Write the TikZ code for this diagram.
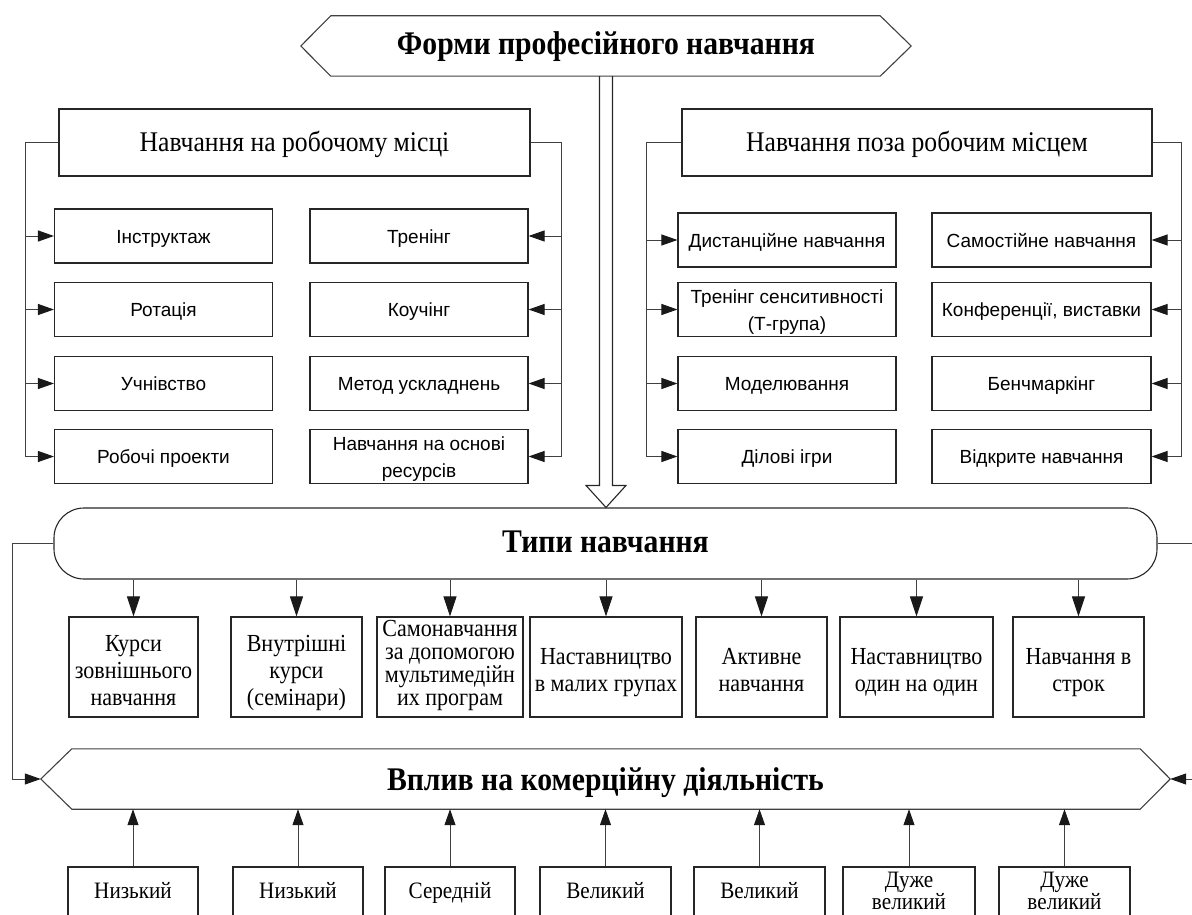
\documentclass[tikz,border=0pt]{standalone}
\usepackage{fontspec}
\setmainfont{Liberation Serif}[FakeStretch=0.9]
\newfontfamily\sansf{Liberation Sans}
\usetikzlibrary{arrows.meta,calc}

\tikzset{
  ln/.style={draw=black!75, line width=1pt},
  arr/.style={ln, -{Triangle[length=16pt,width=11pt,black!90]}},
  darr/.style={ln, -{Triangle[length=20pt,width=13pt,black!90]}},
  box/.style={draw=black!85, line width=1.1pt, rectangle, inner sep=0pt, align=center},
  % invisible rules: height of the first line, depth of the last line;
  % lines always keep the full baseline distance
  struts/.style 2 args={execute at begin node={\lineskiplimit=-100pt\rule{0pt}{#1}},
                        execute at end node={\rule[-#2]{0pt}{#2}}},
  formbox/.style={box, align=flush center, minimum width=#1, text width=#1-6pt, minimum height=54pt,
    struts={19pt}{5pt}, font=\sansf\fontsize{19}{27}\selectfont},
  formbox/.default=218pt,
  headbox/.style={box, minimum width=#1, minimum height=67pt, struts={24pt}{6pt},
    font=\fontsize{28.5}{32}\selectfont},
  headbox/.default=471pt,
  typebase/.style={box, align=flush center, minimum width=#1, text width=#1-4pt, minimum height=100pt},
  typebox/.style={typebase=#1, struts={30pt}{8pt}, font=\fontsize{24.5}{27}\selectfont},
  typeboxtight/.style={typebase=#1, struts={19pt}{11pt}, font=\fontsize{24.5}{22.7}\selectfont},
  effbox/.style={box, align=flush center, minimum width=#1, text width=#1-6pt, minimum height=52pt,
    struts={17pt}{6pt}, font=\fontsize{23.5}{21.5}\selectfont},
  effbox/.default=131pt,
  bigtitle/.style={font=\bfseries\fontsize{33}{36}\selectfont, inner sep=0pt},
}

\begin{document}
\begin{tikzpicture}[x=1pt,y=-1pt]
\useasboundingbox (0,0) rectangle (1192,915);
\clip (0,0) rectangle (1192,915);

% ---- top banner
\node[bigtitle, struts={26pt}{8pt}, minimum width=610pt, minimum height=60pt] (title) at (606,46) {Форми професійного навчання};
\draw[ln, line width=1.1pt] (title.west) -- ([xshift=30pt]title.north west) -- ([xshift=-31pt]title.north east)
  -- (title.east) -- ([xshift=-31pt]title.south east) -- ([xshift=30pt]title.south west) -- cycle;

% ---- on-the-job group
\node[headbox] (onjob) at (294.5,142.5) {Навчання на робочому місці};
\node[formbox] (L1) at (163.5,236)   {Інструктаж};
\node[formbox] (L2) at (163.5,309.5) {Ротація};
\node[formbox] (L3) at (163.5,383.5) {Учнівство};
\node[formbox] (L4) at (163.5,456.5) {Робочі проекти};
\node[formbox] (R1) at (419,236)     {Тренінг};
\node[formbox] (R2) at (419,309.5)   {Коучінг};
\node[formbox] (R3) at (419,383.5)   {Метод ускладнень};
\node[formbox] (R4) at (419,456.5)   {Навчання на основі\\ресурсів};

\draw[ln] (onjob.west) -- ++(-33,0) coordinate (lj) -- (lj |- L4.west);
\foreach \n in {L1,L2,L3,L4} \draw[arr] (lj |- \n.west) -- (\n.west);
\draw[ln] (onjob.east) -- ++(31,0) coordinate (rj) -- (rj |- R4.east);
\foreach \n in {R1,R2,R3,R4} \draw[arr] (rj |- \n.east) -- (\n.east);

% ---- off-the-job group
\node[headbox=470pt] (offjob) at (917,142.5) {Навчання поза робочим місцем};
\node[formbox] (A1) at (787,240)     {Дистанційне навчання};
\node[formbox] (A2) at (787,309.5)   {Тренінг сенситивності\\(Т-група)};
\node[formbox] (A3) at (787,383.5)   {Моделювання};
\node[formbox] (A4) at (787,456.5)   {Ділові ігри};
\node[formbox=219pt] (B1) at (1041.5,240)   {Самостійне навчання};
\node[formbox=219pt] (B2) at (1041.5,309.5) {Конференції, виставки};
\node[formbox=219pt] (B3) at (1041.5,383.5) {Бенчмаркінг};
\node[formbox=219pt] (B4) at (1041.5,456.5) {Відкрите навчання};

\draw[ln] (offjob.west) -- ++(-35,0) coordinate (lo) -- (lo |- A4.west);
\foreach \n in {A1,A2,A3,A4} \draw[arr] (lo |- \n.west) -- (\n.west);
\draw[ln] (offjob.east) -- ++(29,0) coordinate (ro) -- (ro |- B4.east);
\foreach \n in {B1,B2,B3,B4} \draw[arr] (ro |- \n.east) -- (\n.east);

% ---- types of training
\node[box, bigtitle, struts={26pt}{8pt}, rounded corners=30pt, minimum width=1103pt, minimum height=71pt] (types) at (605.5,543.5) {Типи навчання};

% hollow arrow from the banner down to the types band
\draw[ln, draw=black!85, line width=1.1pt, line join=miter]
  ($(title.south)+(-6.5,0)$) -- ($(title.south |- types.north)+(-6.5,-22)$) -- ++(-13.5,0)
  -- (title.south |- types.north) -- ($(title.south |- types.north)+(20,-22)$) -- ++(-13.5,0)
  -- ($(title.south)+(6.5,0)$);

\node[typebox=129pt] (t1) at (133.5,667) {Курси\\зовнішнього\\навчання};
\node[typebox=131pt] (t2) at (296.5,667) {Внутрішні\\курси\\(семінари)};
\node[typeboxtight=146pt] (t3) at (450,667) {Самонавчання\\за допомогою\\мультимедійн\\их програм};
\node[typebox=152pt] (t4) at (606,667) {Наставництво\\в малих групах};
\node[typebox=131pt] (t5) at (761.5,667) {Активне\\навчання};
\node[typebox=153pt] (t6) at (916.5,667) {Наставництво\\один на один};
\node[typebox=131pt] (t7) at (1078.5,667) {Навчання в\\строк};
\foreach \n in {t1,t2,t3,t4,t5,t6,t7} \draw[darr] (\n.north |- types.south) -- (\n.north);

% ---- impact on business
\node[bigtitle, struts={30pt}{5pt}, minimum width=1129pt, minimum height=60pt] (impact) at (605.5,779) {Вплив на комерційну діяльність};
\draw[ln, line width=1.1pt] (impact.west) -- ([xshift=31pt]impact.north west) -- ([xshift=-30pt]impact.north east)
  -- (impact.east) -- ([xshift=-30pt]impact.south east) -- ([xshift=31pt]impact.south west) -- cycle;

\draw[arr] (types.west) -- ++(-41,0) |- (impact.west);
\draw[arr] (types.east) -- ++(45,0) |- (impact.east);

\node[effbox=130pt] (b1) at (133,893)    {Низький};
\node[effbox=130pt] (b2) at (298,893)    {Низький};
\node[effbox=130pt] (b3) at (450,893)    {Середній};
\node[effbox] (b4) at (605.5,893)  {Великий};
\node[effbox] (b5) at (759.5,893)  {Великий};
\node[effbox=132pt] (b6) at (909,893)    {Дуже\\великий};
\node[effbox] (b7) at (1064.5,893) {Дуже\\великий};
\foreach \n in {b1,b2,b3,b4,b5,b6,b7} \draw[arr] (\n.north) -- (\n.north |- impact.south);
\end{tikzpicture}
\end{document}
